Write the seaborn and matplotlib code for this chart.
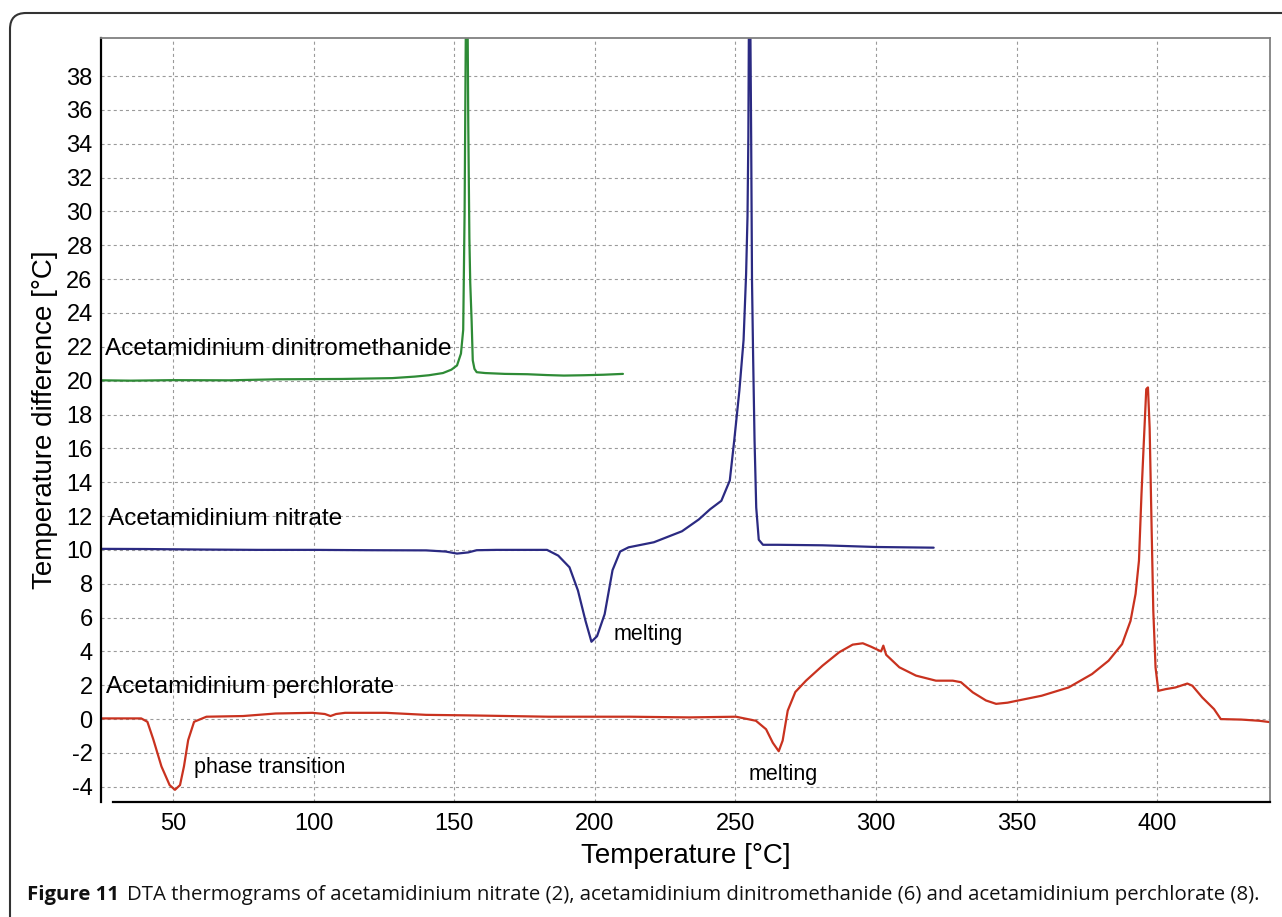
import numpy as np
import pandas as pd
import matplotlib
matplotlib.use("Agg")
import matplotlib.pyplot as plt
import seaborn as sns
from matplotlib.patches import FancyBboxPatch

# DTA traces: temperature [C] / temperature difference [C]
dnm_temp = [24.4, 35, 50, 70, 87, 110, 128, 136, 141, 146, 149, 151, 152.4, 153.2,
            153.7, 154.1, 154.5, 155.0, 155.4, 155.7, 156.2, 156.6, 157.2, 158.0,
            161, 168, 176, 183, 189, 196, 203, 210]
dnm_dt = [20.02, 20.0, 20.03, 20.02, 20.08, 20.1, 20.15, 20.24, 20.32, 20.45, 20.65,
          20.9, 21.6, 23.0, 30.0, 40.0, 48.0, 35.2, 28.4, 25.8, 23.5, 21.2, 20.7, 20.5,
          20.45, 20.4, 20.38, 20.33, 20.3, 20.32, 20.35, 20.4]

nit_temp = [24.4, 40, 60, 80, 100, 120, 140, 147, 151, 155, 158, 165, 175, 183, 187,
            191, 194, 196.7, 198.8, 200.8, 203.5, 206.3, 209, 212, 221, 231, 237, 241,
            245, 248, 249.6, 251.4, 252.9, 253.8, 254.3, 254.6, 255.0, 255.6, 255.9,
            256.3, 256.8, 257.4, 258.3, 259.8, 265, 281, 300, 320.5]
nit_dt = [10.06, 10.05, 10.02, 10.0, 10.0, 9.98, 9.97, 9.9, 9.78, 9.85, 9.98, 10.0,
          10.0, 10.0, 9.66, 8.97, 7.6, 5.8, 4.57, 4.9, 6.2, 8.8, 9.9, 10.15, 10.45,
          11.1, 11.8, 12.4, 12.9, 14.1, 16.5, 19.4, 22.4, 26.3, 29.7, 34.4, 48.0, 34.4,
          25.9, 21.4, 16.5, 12.5, 10.6, 10.3, 10.3, 10.27, 10.17, 10.13]

per_temp = [24.4, 38.7, 40.9, 43, 45.9, 48.8, 50.7, 52.5, 53.9, 55.4, 57.5, 61.9, 74.9,
            86.5, 99.6, 104, 106, 108, 111.2, 125.7, 140, 154.6, 183.6, 212.6, 233.6,
            250.2, 257.3, 260.9, 263.3, 265.4, 266.8, 268.6, 271.3, 275.1, 281, 286.9,
            291.7, 295.3, 298.2, 301.8, 302.6, 303.6, 308.3, 314.2, 321.3, 327.3, 330.2,
            334.4, 339.1, 342.7, 346.8, 350, 358.9, 368.5, 376.8, 382.7, 387.5, 390.5,
            392.3, 393.5, 394.4, 395.2, 396.1, 396.7, 397.3, 398, 398.6, 399.4, 400.4,
            403, 406.5, 410.7, 412.5, 416, 420.2, 422.6, 430, 436.3, 440.1]
per_dt = [0.04, 0.04, -0.16, -1.2, -2.8, -3.9, -4.18, -3.9, -2.8, -1.24, -0.16, 0.14,
          0.18, 0.33, 0.37, 0.3, 0.18, 0.3, 0.37, 0.37, 0.25, 0.22, 0.14, 0.14, 0.1,
          0.14, -0.1, -0.6, -1.4, -1.9, -1.27, 0.5, 1.6, 2.27, 3.16, 3.95, 4.4, 4.48,
          4.28, 4.0, 4.34, 3.8, 3.06, 2.57, 2.27, 2.27, 2.18, 1.58, 1.1, 0.9, 0.97, 1.08,
          1.38, 1.87, 2.66, 3.45, 4.43, 5.8, 7.4, 9.36, 13.3, 16.26, 19.5, 19.6, 17.2,
          11.3, 6.4, 3.05, 1.67, 1.77, 1.87, 2.1, 1.97, 1.28, 0.59, 0.0, -0.03, -0.1,
          -0.18]

y_ticks = list(range(-4, 39, 2))
x_ticks = [50, 100, 150, 200, 250, 300, 350, 400]

sns.set_style("white")
plt.rcParams['font.family'] = ['Liberation Sans', 'DejaVu Sans']
plt.rcParams['lines.scale_dashes'] = False
plt.rcParams['axes.unicode_minus'] = False
plt.rcParams['text.color'] = 'black'
plt.rcParams['axes.labelcolor'] = 'black'

fig = plt.figure(figsize=(12.82, 9.17), dpi=100)
ax = fig.add_axes([101 / 1282, 1 - 802 / 917, 1169 / 1282, 764 / 917])

traces = [
    (dnm_temp, dnm_dt, '#2e8b36'),
    (nit_temp, nit_dt, '#2b2a82'),
    (per_temp, per_dt, '#c9321f'),
]
for t, dt, col in traces:
    df = pd.DataFrame({'T': t, 'dT': dt})
    sns.lineplot(data=df, x='T', y='dT', ax=ax, color=col, linewidth=1.6,
                 sort=False, estimator=None)

ax.set_xlim(24.4, 440.1)
ax.set_ylim(-4.9, 40.25)
ax.set_xticks(x_ticks)
ax.set_xticks(np.arange(30, 441, 10), minor=True)
ax.set_yticks(y_ticks)
ax.grid(True, which='major', color='#9a9a9a', linestyle=(0, (2.2, 2.2)), linewidth=0.8)
ax.tick_params(axis='both', which='both', direction='out', length=3, width=1,
               colors='black', labelsize=17, pad=3)
ax.tick_params(axis='x', which='minor', length=3)
ax.tick_params(axis='x', pad=5)

for side in ['top', 'right']:
    ax.spines[side].set_color('#808080')
    ax.spines[side].set_linewidth(1.3)
ax.spines['left'].set_color('black')
ax.spines['left'].set_linewidth(1.6)
ax.spines['bottom'].set_color('black')
ax.spines['bottom'].set_linewidth(1.6)
ax.spines['bottom'].set_bounds(28.5, 440.1)

ax.set_xlabel('Temperature [°C]', fontsize=20, labelpad=6)
ax.set_ylabel('Temperature difference [°C]', fontsize=20, labelpad=6)

# curve labels
ax.text(25.7, 21.5, 'Acetamidinium dinitromethanide', fontsize=17.6, va='baseline')
ax.text(26.8, 11.45, 'Acetamidinium nitrate', fontsize=17.6, va='baseline')
ax.text(26.2, 1.55, 'Acetamidinium perchlorate', fontsize=17.6, va='baseline')
ax.text(57.5, -3.2, 'phase transition', fontsize=15.5, va='baseline')
ax.text(206.5, 4.7, 'melting', fontsize=15.5, va='baseline')
ax.text(254.5, -3.58, 'melting', fontsize=15.5, va='baseline')

# rounded frame of the figure panel
frame = FancyBboxPatch((0.10, -0.5), 13.2, 9.54, boxstyle='round,pad=0,rounding_size=0.16',
                       transform=fig.dpi_scale_trans, facecolor='none',
                       edgecolor='#333333', linewidth=1.5)
fig.patches.append(frame)

cap_font = ['Liberation Sans Narrow', 'Open Sans', 'DejaVu Sans']
t1 = fig.text(27 / 1282, 1 - 900 / 917, 'Figure 11', fontsize=14.7, fontweight='bold',
              family=cap_font, color='#111111')
ax.annotate('DTA thermograms of acetamidinium nitrate (2), acetamidinium dinitromethanide (6) '
            'and acetamidinium perchlorate (8).', xy=(1, 0), xycoords=t1,
            xytext=(6, 0), textcoords='offset points', fontsize=14.7,
            family=cap_font, color='#111111', va='bottom', annotation_clip=False)

fig.savefig('out.png', dpi=100)
